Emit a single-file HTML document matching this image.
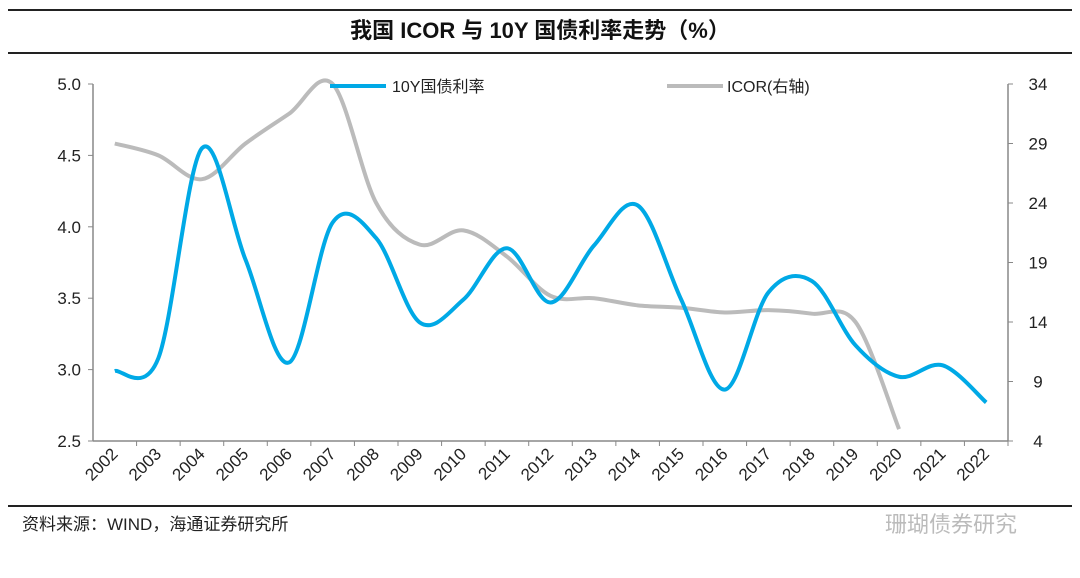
<!DOCTYPE html>
<html><head><meta charset="utf-8"><style>
body{margin:0;background:#fff;width:1080px;height:573px;overflow:hidden;font-family:"Liberation Sans","Noto Sans CJK SC",sans-serif}
svg text{font-family:"Liberation Sans","Noto Sans CJK SC",sans-serif}
</style></head><body>
<svg id="chart" width="1080" height="573">
<line x1="8" y1="10" x2="1072" y2="10" stroke="#222" stroke-width="2"/>
<text x="540" y="38" text-anchor="middle" font-size="22" font-weight="bold" fill="#111">我国 ICOR 与 10Y 国债利率走势（%）</text>
<line x1="8" y1="53" x2="1072" y2="53" stroke="#222" stroke-width="2"/>
<line x1="8" y1="506" x2="1072" y2="506" stroke="#222" stroke-width="2"/>
<text x="22" y="530" font-size="17" fill="#222">资料来源：WIND，海通证券研究所</text>
<text x="885" y="532" font-size="22" fill="#bbb">珊瑚债券研究</text>
<g id="axes"></g>
<g id="series"></g>
<g>
<line x1="330" y1="86" x2="386" y2="86" stroke="#00a9e6" stroke-width="4"/>
<text x="392" y="92" font-size="16" fill="#222">10Y国债利率</text>
<line x1="667" y1="86" x2="723" y2="86" stroke="#bbb" stroke-width="4"/>
<text x="727" y="92" font-size="16" fill="#222">ICOR(右轴)</text>
</g>
</svg>
<script>
const years=["2002","2003","2004","2005","2006","2007","2008","2009","2010","2011","2012","2013","2014","2015","2016","2017","2018","2019","2020","2021","2022"];
const bond10y=[2.99,3.08,4.55,3.77,3.05,4.03,3.92,3.33,3.49,3.85,3.47,3.87,4.15,3.49,2.86,3.54,3.62,3.17,2.95,3.03,2.77];
const icor=[29.0,28.0,26.0,29.0,31.5,34.0,24.0,20.5,21.7,19.5,16.2,16.0,15.4,15.2,14.8,15.0,14.7,14.0,5.0];
const leftTicks=[2.5,3.0,3.5,4.0,4.5,5.0];
const rightTicks=[4,9,14,19,24,29,34];
const NS="http://www.w3.org/2000/svg";
const X0=93,X1=1008,YT=84,YB=441;
const step=(X1-X0)/years.length;
const xs=i=>X0+step*(i+0.5);
const yL=v=>YB-(v-2.5)/(5-2.5)*(YB-YT);
const yR=v=>YB-(v-4)/(34-4)*(YB-YT);
function mk(tag,attrs,parent){const e=document.createElementNS(NS,tag);for(const k in attrs)e.setAttribute(k,attrs[k]);parent.appendChild(e);return e;}
const ax=document.getElementById('axes');
let e=mk('line',{x1:X0,y1:YT,x2:X0,y2:YB,stroke:'#888','stroke-width':1.5},ax);


e=mk('line',{x1:X1,y1:YT,x2:X1,y2:YB,stroke:'#888','stroke-width':1.5},ax);


e=mk('line',{x1:X0,y1:YB,x2:X1,y2:YB,stroke:'#888','stroke-width':1.5},ax);


leftTicks.forEach(v=>{
 mk('line',{x1:X0-5,y1:yL(v),x2:X0,y2:yL(v),stroke:'#888'},ax);
 const t=mk('text',{x:X0-12,y:yL(v)+6,'text-anchor':'end','font-size':17,fill:'#222'},ax);
 t.textContent=v.toFixed(1);
 
 
});
rightTicks.forEach(v=>{
 mk('line',{x1:X1,y1:yR(v),x2:X1+5,y2:yR(v),stroke:'#888'},ax);
 const t=mk('text',{x:X1+30,y:yR(v)+6,'text-anchor':'middle','font-size':17,fill:'#222'},ax);
 t.textContent=v;
 
 
});
years.forEach((y,i)=>{
 mk('line',{x1:X0+step*(i+1),y1:YB,x2:X0+step*(i+1),y2:YB+5,stroke:'#888'},ax);
 const cx=xs(i)+4,cy=YB+14;
 const t=mk('text',{x:cx,y:cy,'text-anchor':'end','font-size':17,fill:'#222',transform:`rotate(-45 ${cx} ${cy})`},ax);
 t.textContent=y;
 
 
});
function smooth(pts){
 let d=`M${pts[0][0]},${pts[0][1]}`;
 for(let i=0;i<pts.length-1;i++){
  const p0=pts[i-1]||pts[i],p1=pts[i],p2=pts[i+1],p3=pts[i+2]||p2;
  const c1=[p1[0]+(p2[0]-p0[0])/6,p1[1]+(p2[1]-p0[1])/6];
  const c2=[p2[0]-(p3[0]-p1[0])/6,p2[1]-(p3[1]-p1[1])/6];
  d+=` C${c1[0]},${c1[1]} ${c2[0]},${c2[1]} ${p2[0]},${p2[1]}`;
 }
 return d;
}
const sg=document.getElementById('series');
let p=mk('path',{d:smooth(icor.map((v,i)=>[xs(i),yR(v)])),fill:'none',stroke:'#bbb','stroke-width':4},sg);


p=mk('path',{d:smooth(bond10y.map((v,i)=>[xs(i),yL(v)])),fill:'none',stroke:'#00a9e6','stroke-width':4},sg);


</script>
</body></html>
